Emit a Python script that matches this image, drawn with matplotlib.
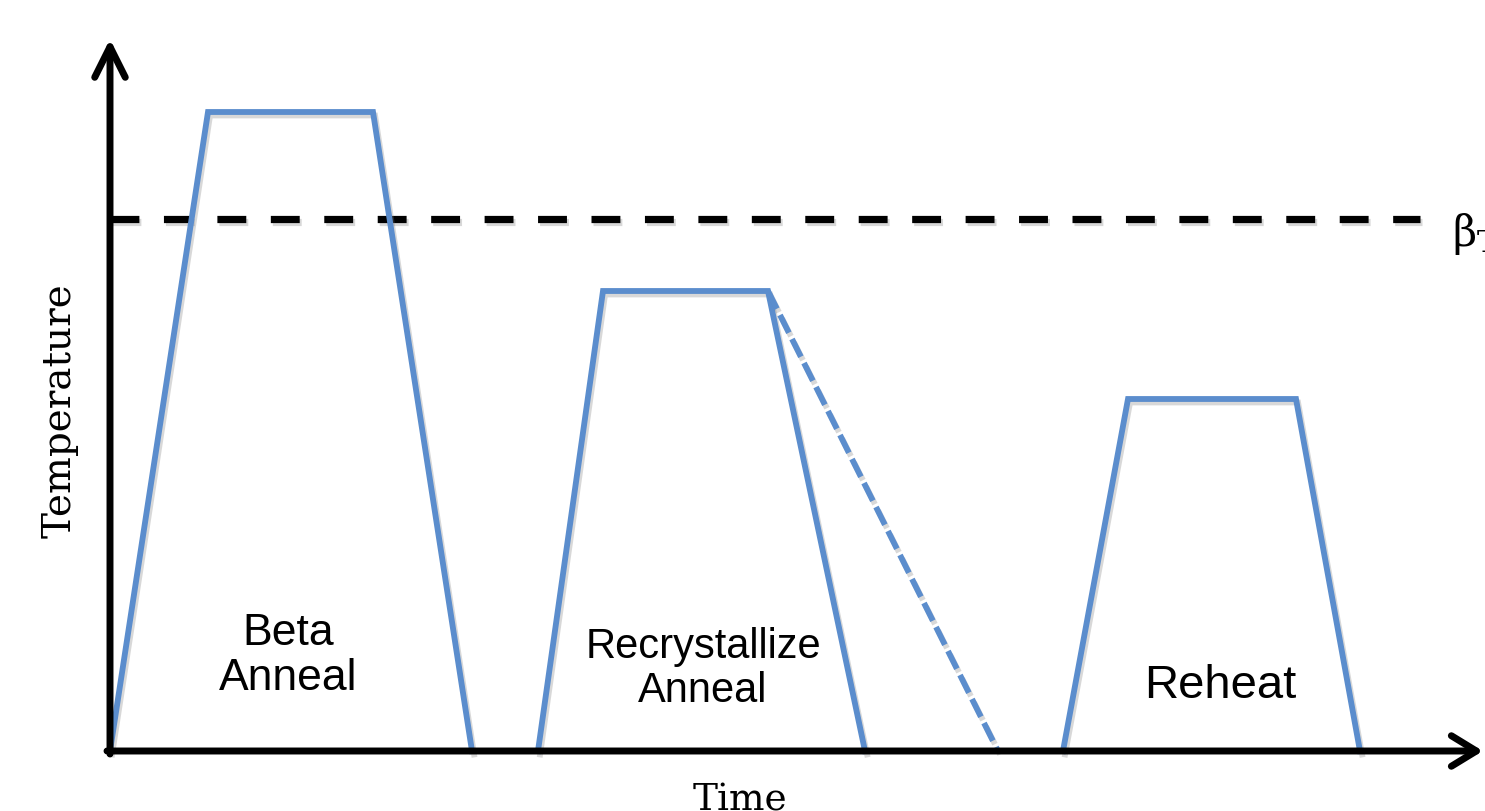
import numpy as np
import matplotlib.pyplot as plt
import matplotlib.patheffects as pe

plt.rcParams['mathtext.fontset'] = 'dejavuserif'

# time / temperature points of each heat treatment step (arbitrary units)
beta_t = [0, 9.8, 26.3, 36.2]
beta_T = [0, 63.9, 63.9, 0]
recr_t = [42.8, 49.3, 65.8, 75.5]
recr_T = [0, 46.0, 46.0, 0]
slow_t = [65.8, 88.8]          # slow cool, dashed
slow_T = [46.0, 0]
reheat_t = [95.3, 101.8, 118.6, 125.0]
reheat_T = [0, 35.2, 35.2, 0]
beta_transus = 53.2
transus_end = 131.0

labels = ['Beta\nAnneal', 'Recrystallize\nAnneal', 'Reheat']
label_x = [17.8, 59.3, 111.0]
label_y = [9.6, 8.3, 6.6]
label_size = [32, 30, 34]

blue = '#5b8dcd'
shadow = [pe.SimpleLineShadow(offset=(1.5, -2.5), shadow_color='gray', alpha=0.3), pe.Normal()]

fig = plt.figure(figsize=(14.85, 8.12), dpi=100)
ax = fig.add_axes([0, 0, 1, 1])
ax.set_xlim(-11, 137.5)
ax.set_ylim(-6, 75.2)
ax.axis('off')

# beta transus line
ax.plot([0, transus_end], [beta_transus, beta_transus], color='k', lw=5.2,
        dashes=(4.0, 3.4), solid_capstyle='butt', dash_capstyle='butt', path_effects=shadow)

for t, T in [(beta_t, beta_T), (recr_t, recr_T), (reheat_t, reheat_T)]:
    ax.plot(t, T, color=blue, lw=4.2, solid_joinstyle='miter', path_effects=shadow)
ax.plot(slow_t, slow_T, color=blue, lw=4.2, dashes=(3.4, 1.2), dash_capstyle='butt',
        path_effects=shadow)

# axes with arrows
ax.annotate('', xy=(0, 71.2), xytext=(0, -0.3),
            arrowprops=dict(arrowstyle='->,head_length=2.2,head_width=1.1', lw=5, color='k',
                            mutation_scale=10, shrinkA=0, shrinkB=0))
ax.annotate('', xy=(137.3, 0), xytext=(-0.3, 0),
            arrowprops=dict(arrowstyle='->,head_length=1.8,head_width=1.1', lw=5, color='k',
                            mutation_scale=10, shrinkA=0, shrinkB=0))

for s, x, y, fs in zip(labels, label_x, label_y, label_size):
    ax.text(x, y, s, ha='center', va='center', fontsize=fs, family='Liberation Sans',
            linespacing=1.15)

ax.text(-5.0, 34.1, 'Temperature', rotation=90, ha='center', va='center',
        fontsize=28, family='DejaVu Serif')
ax.text(63.0, -5.9, 'Time', ha='center', va='baseline', fontsize=27, family='DejaVu Serif')
ax.text(134.2, 51.8, r'β$_\mathrm{T}$', ha='left', va='center', fontsize=30,
        family='DejaVu Serif')

fig.savefig('out.png', dpi=100)
